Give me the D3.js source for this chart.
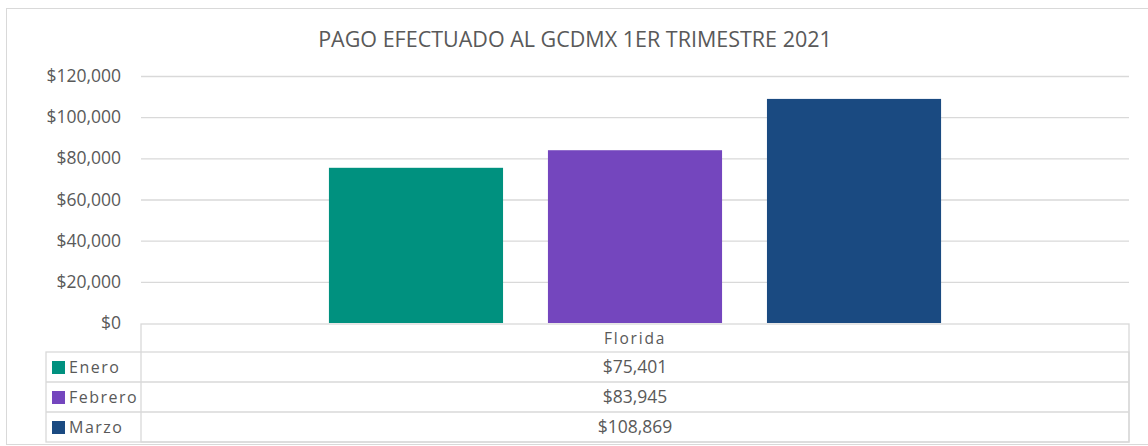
<!DOCTYPE html>
<html>
<head>
<meta charset="utf-8">
<script src="https://cdn.jsdelivr.net/npm/d3@7"></script>
<style>
  body { margin: 0; background: #fff; font-family: "Open Sans", sans-serif; }
  text { fill: #595959; }
</style>
</head>
<body>
<div id="graphic"></div>
<script>
// pago efectuado al gcdmx, primer trimestre
const title = "PAGO EFECTUADO AL GCDMX 1ER TRIMESTRE 2021";
const category = ["Florida"];
const months = ["Enero", "Febrero", "Marzo"];
const values = [75401, 83945, 108869];
const yTicks = [0, 20000, 40000, 60000, 80000, 100000, 120000];
const colors = ["#00917f", "#7446be", "#1a4a81"];

const outerWidth = 1148, outerHeight = 446;
const margin = { left: 141, right: 19, top: 76, bottom: 123 };
const width = outerWidth - margin.left - margin.right;
const height = 323 - margin.top;

const svg = d3.select("#graphic")
  .append("svg")
  .attr("width", outerWidth)
  .attr("height", outerHeight);

// chart area border
svg.append("rect")
  .attr("x", 6.5).attr("y", 8.5)
  .attr("width", 1150).attr("height", 436)
  .attr("fill", "none")
  .attr("stroke", "#d9d9d9");

svg.append("text")
  .attr("x", 575).attr("y", 47)
  .attr("text-anchor", "middle")
  .style("font-size", "21.5px")
  .text(title);

const plot = svg.append("g")
  .attr("transform", `translate(${margin.left}, ${margin.top})`);

const yScale = d3.scaleLinear()
  .domain([0, 120000])
  .range([height, 0]);

const x0 = d3.scaleBand()
  .domain(category)
  .range([0, width])
  .paddingInner(0)
  .paddingOuter(0.307);

const x1 = d3.scaleBand()
  .domain(months)
  .range([0, x0.bandwidth()])
  .paddingInner(0.205)
  .paddingOuter(0);

// grid lines
const yGrid = d3.axisLeft(yScale)
  .tickValues(yTicks.slice(1))
  .tickSize(-width)
  .tickFormat("");

plot.append("g")
  .attr("class", "grid")
  .call(yGrid)
  .call(g => g.select(".domain").remove())
  .call(g => g.selectAll("line").attr("stroke", "#d9d9d9").attr("stroke-width", 1.3));

const yAxis = d3.axisLeft(yScale)
  .tickValues(yTicks)
  .tickSize(0)
  .tickPadding(20)
  .tickFormat(d => "$" + d3.format(",")(d));

plot.append("g")
  .attr("class", "yaxis")
  .call(yAxis)
  .call(g => g.select(".domain").remove())
  .call(g => g.selectAll("text")
    .style("font-size", "17.5px")
    .style("font-family", "Open Sans, sans-serif")
    .attr("fill", "#595959"));

const group = plot.append("g")
  .attr("transform", `translate(${x0("Florida")}, 0)`);

group.selectAll("rect")
  .data(values)
  .enter()
  .append("rect")
  .attr("x", (d, i) => x1(months[i]))
  .attr("y", d => yScale(d))
  .attr("width", x1.bandwidth())
  .attr("height", d => height - yScale(d))
  .attr("fill", (d, i) => colors[i]);

// data table below the plot
const tableTop = margin.top + height + 1;
const headerH = 28;
const rowH = 30;
const legendLeft = 46;
const tableRight = margin.left + width;
const center = margin.left + x0("Florida") + x0.bandwidth() / 2;

const table = svg.append("g")
  .attr("class", "table")
  .attr("stroke", "#d9d9d9")
  .attr("stroke-width", 1.3)
  .attr("fill", "none");

table.append("rect")
  .attr("x", margin.left).attr("y", tableTop)
  .attr("width", width).attr("height", headerH + rowH * months.length);

table.append("rect")
  .attr("x", legendLeft).attr("y", tableTop + headerH)
  .attr("width", tableRight - legendLeft).attr("height", rowH * months.length);

months.forEach(function(m, i) {
  if (i > 0) {
    table.append("line")
      .attr("x1", legendLeft).attr("x2", tableRight)
      .attr("y1", tableTop + headerH + rowH * i)
      .attr("y2", tableTop + headerH + rowH * i);
  }
});

svg.append("text")
  .attr("x", center).attr("y", tableTop + headerH / 2 + 6)
  .attr("text-anchor", "middle")
  .style("font-size", "15.5px")
  .style("letter-spacing", "1.8px")
  .text(category[0]);

const rows = svg.append("g").selectAll("g")
  .data(months)
  .enter()
  .append("g")
  .attr("transform", (d, i) => `translate(0, ${tableTop + headerH + rowH * i})`);

rows.append("rect")
  .attr("x", 52).attr("y", 9)
  .attr("width", 13).attr("height", 13)
  .attr("fill", (d, i) => colors[i]);

rows.append("text")
  .attr("x", 69).attr("y", 21)
  .style("font-size", "16px")
  .style("letter-spacing", "1.5px")
  .text(d => d);

rows.append("text")
  .attr("x", center).attr("y", 21)
  .attr("text-anchor", "middle")
  .style("font-size", "17.5px")
  .text((d, i) => "$" + d3.format(",")(values[i]));
</script>
</body>
</html>
